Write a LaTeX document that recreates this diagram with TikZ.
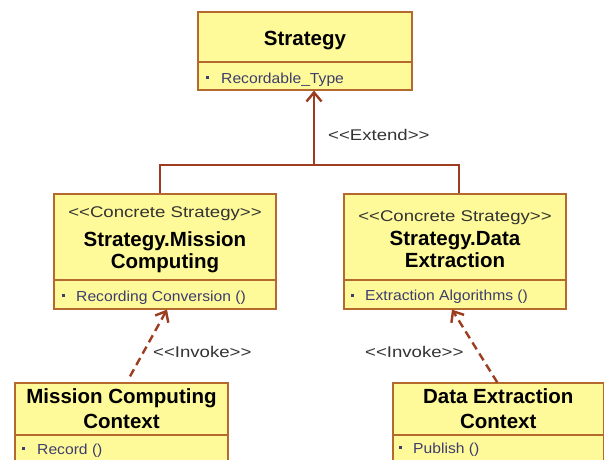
\documentclass[tikz,border=0pt]{standalone}
\usepackage{fontspec}
\setmainfont{Liberation Sans}
\newfontfamily\stereofont[FakeStretch=1.2]{Liberation Sans}
\newfontfamily\attrfont[FakeStretch=1.08]{Liberation Sans}
\usetikzlibrary{arrows.meta}
\definecolor{boxfill}{HTML}{FFFA99}
\definecolor{boxline}{HTML}{B4692E}
\definecolor{conncol}{HTML}{9B3D1E}
\definecolor{attrcol}{HTML}{3C3C6E}
\definecolor{stereocol}{HTML}{333333}
\newcommand{\ttlstrut}{\rule{0pt}{15pt}}
\begin{document}
\begin{tikzpicture}[x=1pt,y=-1pt,
  umlbox/.style={draw=boxline, fill=boxfill, line width=1.2pt, inner sep=0pt, rectangle},
  divider/.style={draw=boxline, line width=1.2pt},
  title/.style={inner sep=0pt, align=center, font=\fontsize{20.5}{22}\selectfont\bfseries},
  btitle/.style={inner sep=0pt, align=center, font=\fontsize{20.5}{25}\selectfont\bfseries},
  stereo/.style={inner sep=0pt, anchor=base, text=stereocol, font=\stereofont\fontsize{15.5}{18}\selectfont},
  connlabel/.style={stereo, anchor=base west},
  attr/.style={inner sep=0pt, anchor=base west, text=attrcol, font=\attrfont\fontsize{14.5}{17}\selectfont},
  bullet/.style={fill=attrcol, inner sep=0pt, minimum size=3pt, rectangle},
  gen/.style={draw=conncol, line width=2.4pt},
  genarrow/.style={gen, -{Straight Barb[length=9pt,width=15pt]}},
  dep/.style={draw=conncol, line width=2.4pt, dash pattern=on 8pt off 5pt, -{Straight Barb[length=9pt,width=15pt]}},
]
\useasboundingbox (0,0) rectangle (605,460);
\fill[white] (0,0) rectangle (605,460);
\clip (0,0) rectangle (605,460);

% Strategy
\node[umlbox, minimum width=214pt, minimum height=78pt] (st) at (305,51) {};
\draw[divider] (st.west |- 0,62) -- (st.east |- 0,62);
\node[title, anchor=base] (stt) at (305,46) {Strategy};
\node[bullet] (stb) at (207,78) {};
\node[attr] (sta) at (221,83) {Recordable\_Type};

% Strategy.Mission Computing
\node[umlbox, minimum width=222pt, minimum height=115pt] (mc) at (165,251.5) {};
\draw[divider] (mc.west |- 0,280) -- (mc.east |- 0,280);
\node[stereo] (mcs) at (165,217) {<<Concrete Strategy>>};
\node[title, anchor=north] (mct) at (165,231) {\ttlstrut Strategy.Mission\\\ttlstrut Computing};
\node[bullet] (mcb) at (63,295) {};
\node[attr] (mca) at (76,301) {Recording Conversion ()};

% Strategy.Data Extraction
\node[umlbox, minimum width=222pt, minimum height=115pt] (de) at (455,251.5) {};
\draw[divider] (de.west |- 0,280) -- (de.east |- 0,280);
\node[stereo] (des) at (455,221) {<<Concrete Strategy>>};
\node[title, anchor=north] (det) at (455,230) {\ttlstrut Strategy.Data\\\ttlstrut Extraction};
\node[bullet] (deb) at (352,295) {};
\node[attr] (dea) at (365,300) {Extraction Algorithms ()};

% Mission Computing Context
\node[umlbox, minimum width=213pt, minimum height=97pt] (bl) at (121.5,431.5) {};
\draw[divider] (bl.west |- 0,435) -- (bl.east |- 0,435);
\node[btitle, anchor=north] (blt) at (121.5,388) {\ttlstrut Mission Computing\\\ttlstrut Context};
\node[bullet] (blb) at (23,448) {};
\node[attr] (bla) at (37,454) {Record ()};

% Data Extraction Context
\node[umlbox, minimum width=210.5pt, minimum height=97pt] (br) at (498.25,431.5) {};
\draw[divider] (br.west |- 0,435) -- (br.east |- 0,435);
\node[btitle, anchor=north] (brt) at (498.25,388) {\ttlstrut Data Extraction\\\ttlstrut Context};
\node[bullet] (brb) at (400,447) {};
\node[attr] (bra) at (413,453) {Publish ()};

% Generalisation
\coordinate (j) at (314,165);
\draw[gen] ([xshift=-5pt]mc.north) |- (j) -| ([xshift=4pt]de.north);
\draw[genarrow] (j) -- ([xshift=9pt]st.south);
\node[connlabel] (ext) at (328,140) {<<Extend>>};

% Dependencies
\draw[dep] ([xshift=8.5pt,yshift=6pt]bl.north) -- ([xshift=2pt]mc.south);
\node[connlabel] (inv1) at (153,357) {<<Invoke>>};
\draw[dep] ([xshift=-1pt]br.north) -- ([xshift=-3pt]de.south);
\node[connlabel] (inv2) at (365,357) {<<Invoke>>};
\end{tikzpicture}
\end{document}
